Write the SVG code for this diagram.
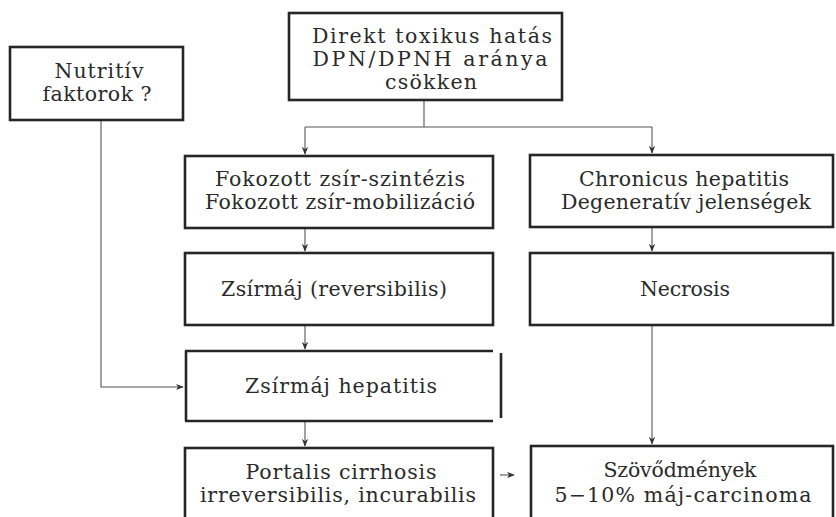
<svg xmlns="http://www.w3.org/2000/svg" width="836" height="517" viewBox="0 0 836 517">
<style>
.box{fill:none;stroke:#262626;stroke-width:2.6}
.t{font-family:"DejaVu Serif","Liberation Serif",serif;font-size:20.5px;fill:#2a2a2a;text-anchor:middle}
.c{fill:none;stroke:#555;stroke-width:1.1}
</style>
<defs>
<marker id="ah" viewBox="0 0 10 10" refX="9" refY="5" markerWidth="8" markerHeight="8" orient="auto" markerUnits="userSpaceOnUse">
<path d="M0,1 L10,5 L0,9 L3,5 Z" fill="#333"/>
</marker>
</defs>
<rect width="836" height="517" fill="#fff"/>
<g id="connectors">
<path class="c" d="M424,100 V127"/>
<path class="c" d="M305,127 H652"/>
<path class="c" d="M305,127 V154" marker-end="url(#ah)"/>
<path class="c" d="M652,127 V153" marker-end="url(#ah)"/>
<path class="c" d="M305,228 V251" marker-end="url(#ah)"/>
<path class="c" d="M652,227 V251" marker-end="url(#ah)"/>
<path class="c" d="M305,325 V349" marker-end="url(#ah)"/>
<path class="c" d="M101,120 V387 H183" marker-end="url(#ah)"/>
<path class="c" d="M305,421 V446" marker-end="url(#ah)"/>
<path class="c" d="M652,325 V444" marker-end="url(#ah)"/>
<path class="c" d="M500,475 H514" marker-end="url(#ah)"/>
</g>
<g id="n-direkt">
<rect class="box" x="289" y="13" width="273" height="87"/>
<text class="t" x="432" y="43" textLength="240" lengthAdjust="spacing">Direkt toxikus hatás</text>
<text class="t" x="430" y="66" textLength="235" lengthAdjust="spacing">DPN/DPNH aránya</text>
<text class="t" x="431" y="89" textLength="92" lengthAdjust="spacing">csökken</text>
</g>
<g id="n-nutritiv">
<rect class="box" x="10" y="47" width="173" height="73"/>
<text class="t" x="99" y="78" textLength="89" lengthAdjust="spacing">Nutritív</text>
<text class="t" x="97" y="101" textLength="109" lengthAdjust="spacing">faktorok ?</text>
</g>
<g id="n-fokozott">
<rect class="box" x="185" y="156" width="308" height="72"/>
<text class="t" x="340" y="186" textLength="250" lengthAdjust="spacing">Fokozott  zsír-szintézis</text>
<text class="t" x="340" y="209" textLength="270" lengthAdjust="spacing">Fokozott zsír-mobilizáció</text>
</g>
<g id="n-chronicus">
<rect class="box" x="530" y="155" width="303" height="72"/>
<text class="t" x="684" y="186" textLength="210" lengthAdjust="spacing">Chronicus hepatitis</text>
<text class="t" x="686" y="209" textLength="250" lengthAdjust="spacing">Degeneratív jelenségek</text>
</g>
<g id="n-zsirmaj">
<rect class="box" x="185" y="253" width="308" height="72"/>
<text class="t" x="334" y="296" textLength="226" lengthAdjust="spacing">Zsírmáj (reversibilis)</text>
</g>
<g id="n-necrosis">
<rect class="box" x="530" y="253" width="303" height="72"/>
<text class="t" x="685" y="296" textLength="90" lengthAdjust="spacing">Necrosis</text>
</g>
<g id="n-hepatitis">
<path class="box" d="M185,351 H493 M185,421 H493 M186,351 V421 M501,353 V418"/>
<text class="t" x="341" y="393" textLength="192" lengthAdjust="spacing">Zsírmáj hepatitis</text>
</g>
<g id="n-portalis">
<rect class="box" x="185" y="448" width="308" height="74"/>
<text class="t" x="341" y="479" textLength="191" lengthAdjust="spacing">Portalis cirrhosis</text>
<text class="t" x="338" y="502" textLength="276" lengthAdjust="spacing">irreversibilis,  incurabilis</text>
</g>
<g id="n-szovodmenyek">
<rect class="box" x="531" y="446" width="302" height="76"/>
<text class="t" x="680" y="477" textLength="153" lengthAdjust="spacing">Szövődmények</text>
<text class="t" x="683" y="502" textLength="257" lengthAdjust="spacing">5−10% máj-carcinoma</text>
</g>
</svg>
